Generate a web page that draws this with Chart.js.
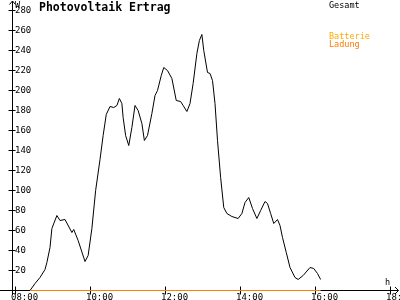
<!DOCTYPE html>
<html>
<head>
<meta charset="utf-8">
<script src="https://cdn.jsdelivr.net/npm/chart.js@4"></script>
<style>
  html, body { margin: 0; padding: 0; background: #fff; }
  canvas { display: block; }
</style>
</head>
<body>
<canvas id="chart" width="400" height="300"></canvas>
<script>
// Gesamt (W) over the day
const gesamtTimes = [
    '08:24', '08:32', '08:40', '08:48', '08:51', '08:56', '08:59', '09:07', '09:12', '09:20',
    '09:31', '09:34', '09:41', '09:52', '09:57', '10:03', '10:09', '10:16', '10:21', '10:26',
    '10:32', '10:38', '10:43', '10:47', '10:51', '10:53', '10:57', '11:02', '11:07', '11:12',
    '11:17', '11:23', '11:27', '11:32', '11:39', '11:44', '11:48', '11:54', '11:58', '12:04',
    '12:11', '12:18', '12:25', '12:29', '12:35', '12:40', '12:45', '12:51', '12:55', '12:59',
    '13:02', '13:08', '13:12', '13:16', '13:20', '13:24', '13:29', '13:34', '13:39', '13:47',
    '13:57', '14:03', '14:08', '14:14', '14:20', '14:27', '14:33', '14:40', '14:44', '14:49',
    '14:54', '15:00', '15:04', '15:08', '15:14', '15:20', '15:28', '15:33', '15:41', '15:52',
    '15:58', '16:04', '16:09'
];
const gesamtValues = [
    0, 7, 13, 21, 28, 43, 62, 75, 70, 71,
    58, 61, 50, 29, 35, 62, 100, 131, 155, 176,
    184, 183, 185, 192, 187, 173, 155, 145, 163, 185,
    180, 167, 150, 155, 177, 195, 200, 215, 223, 220,
    212, 190, 189, 185, 179, 187, 207, 237, 250, 256,
    240, 218, 217, 210, 187, 150, 113, 83, 77, 74,
    72, 77, 88, 93, 82, 72, 80, 89, 87, 77,
    67, 71, 65, 53, 38, 23, 13, 11, 15, 23,
    22, 17, 11
];

// Batterie Ladung stays at zero
const ladungTimes = ['08:24', '16:09'];
const ladungValues = [0, 0];

const xTickHours = [8, 10, 12, 14, 16, 18];
const yTickValues = [20, 40, 60, 80, 100, 120, 140, 160, 180, 200, 220, 240, 260, 280];

const monoFont = '"DejaVu Sans Mono", "Liberation Mono", monospace';

function toMinutes(t) {
    const parts = t.split(':');
    return parseInt(parts[0]) * 60 + parseInt(parts[1]);
}

function toPoints(times, values) {
    return times.map((t, i) => ({ x: toMinutes(t), y: values[i] }));
}

function hourLabel(minutes) {
    return String(Math.round(minutes / 60)).padStart(2, '0') + ':00';
}

const decorations = {
    id: 'decorations',
    beforeDatasetsDraw(chart) {
        const ctx = chart.ctx;
        const xs = chart.scales.x;
        const ys = chart.scales.y;
        const ax = Math.floor(xs.left) + 0.5;
        const ay = Math.floor(ys.bottom) + 0.5;

        ctx.save();
        ctx.strokeStyle = '#000';
        ctx.lineWidth = 1;
        ctx.beginPath();
        // axes with arrows
        ctx.moveTo(ax, 1); ctx.lineTo(ax, 295);
        ctx.moveTo(ax - 3, 4.5); ctx.lineTo(ax, 1); ctx.lineTo(ax + 3, 4.5);
        ctx.moveTo(0, ay); ctx.lineTo(398.5, ay);
        ctx.moveTo(395, ay - 3.5); ctx.lineTo(398.5, ay); ctx.lineTo(395, ay + 3.5);
        // tick marks crossing the axes
        xs.ticks.forEach(t => {
            const px = Math.floor(xs.getPixelForValue(t.value)) + 0.5;
            ctx.moveTo(px, ay - 4); ctx.lineTo(px, ay + 4);
        });
        ys.ticks.forEach(t => {
            const py = Math.floor(ys.getPixelForValue(t.value)) + 0.5;
            ctx.moveTo(ax - 4, py); ctx.lineTo(ax + 3, py);
        });
        ctx.stroke();
        ctx.restore();
    },
    afterDraw(chart) {
        const ctx = chart.ctx;
        ctx.save();
        ctx.textBaseline = 'alphabetic';
        ctx.textAlign = 'left';

        ctx.fillStyle = '#000';
        ctx.font = 'bold 11.5px ' + monoFont;
        ctx.fillText('Photovoltaik Ertrag', 39, 11);

        ctx.font = '8.5px ' + monoFont;
        ctx.fillText('W', 15, 7.5);
        ctx.fillText('h', 385, 285);
        ctx.fillText('Gesamt', 329, 8);

        ctx.fillStyle = '#ffaa00';
        ctx.fillText('Batterie', 329, 39);
        ctx.fillStyle = '#ff7a00';
        ctx.fillText('Ladung', 329, 47);
        ctx.restore();
    }
};

new Chart(document.getElementById('chart'), {
    type: 'line',
    data: {
        datasets: [
            {
                label: 'Ladung',
                data: toPoints(ladungTimes, ladungValues),
                borderColor: '#ff8000',
                borderWidth: 1,
                clip: false
            },
            {
                label: 'Gesamt',
                data: toPoints(gesamtTimes, gesamtValues),
                borderColor: '#000',
                borderWidth: 1,
                clip: false
            }
        ]
    },
    options: {
        responsive: false,
        animation: false,
        devicePixelRatio: 1,
        layout: { padding: { left: 12, top: 10.5, right: 4, bottom: 0 } },
        elements: {
            point: { radius: 0 },
            line: { tension: 0 }
        },
        plugins: {
            legend: { display: false },
            tooltip: { enabled: false }
        },
        scales: {
            x: {
                type: 'linear',
                min: 475.2,
                max: 1089.6,
                afterFit: s => {
                    s.height = 9.5;
                    s.paddingLeft = 0;
                    s.paddingRight = 0;
                },
                afterBuildTicks: s => { s.ticks = xTickHours.map(h => ({ value: h * 60 })); },
                grid: { display: false, drawTicks: false },
                border: { display: false },
                ticks: {
                    align: 'start',
                    labelOffset: -4,
                    padding: 2,
                    maxRotation: 0,
                    autoSkip: false,
                    color: '#000',
                    font: { family: monoFont, size: 9 },
                    callback: v => hourLabel(v)
                }
            },
            y: {
                min: 0,
                max: 280,
                afterFit: s => {
                    s.width = 0;
                    s.paddingTop = 0;
                    s.paddingBottom = 0;
                },
                afterBuildTicks: s => { s.ticks = yTickValues.map(v => ({ value: v })); },
                grid: { display: false, drawTicks: false },
                border: { display: false },
                ticks: {
                    mirror: true,
                    padding: 3,
                    color: '#000',
                    font: { family: monoFont, size: 9 }
                }
            }
        }
    },
    plugins: [decorations]
});
</script>
</body>
</html>
